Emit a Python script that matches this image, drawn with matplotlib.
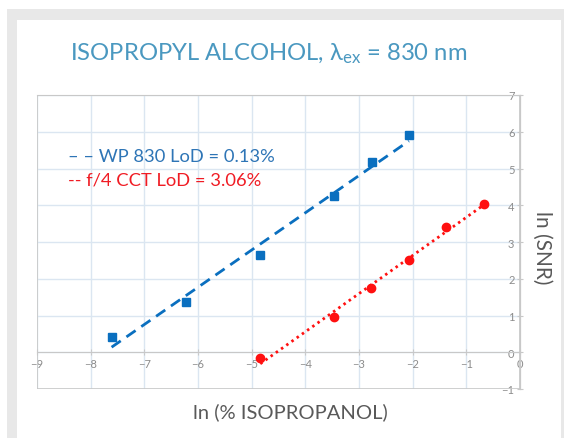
import matplotlib.pyplot as plt
from matplotlib.patches import Rectangle
import numpy as np

plt.rcParams['font.family'] = ['Lato', 'DejaVu Sans']
plt.rcParams['mathtext.fontset'] = 'custom'
plt.rcParams['mathtext.rm'] = 'Lato'

# ln(% isopropanol) vs ln(SNR)
wp_x = [-7.61, -6.23, -4.84, -3.46, -2.76, -2.07]
wp_y = [0.42, 1.37, 2.64, 4.26, 5.17, 5.90]
cct_x = [-4.84, -3.46, -2.77, -2.07, -1.38, -0.68]
cct_y = [-0.16, 0.95, 1.74, 2.51, 3.41, 4.03]

x_ticks = list(range(-9, 1))
y_ticks = list(range(-1, 8))

blue = '#0a6fbf'
red = '#ff1010'

fig = plt.figure(figsize=(5.64, 4.39), dpi=100)

# grey frame around the panel
W, H = 564, 439
fig.patches.append(Rectangle((7 / W, 0), 1 - 7 / W, 1 - 10 / H, transform=fig.transFigure,
                             facecolor='#e8e8e8', edgecolor='none', zorder=-2))
fig.patches.append(Rectangle((17 / W, 0), (561 - 17) / W, 1 - 21 / H, transform=fig.transFigure,
                             facecolor='white', edgecolor='none', zorder=-1))

ax = fig.add_axes([37 / W, 1 - 390 / H, (520 - 37) / W, (390 - 96) / H])
ax.set_zorder(2)
ax.set_facecolor('none')
ax.set_xlim(-9, 0)
ax.set_ylim(-1, 7)
ax.set_xticks(x_ticks)
ax.set_yticks(y_ticks)
ax.grid(True, color='#dbe6f1', linewidth=1.0)
ax.set_axisbelow(True)

for s in ['top', 'right']:
    ax.spines[s].set_color('#c8c8c8')
ax.spines['left'].set_position(('data', 0))
ax.spines['bottom'].set_position(('data', 0))
ax.spines['left'].set_color('#c8c8c8')
ax.spines['bottom'].set_color('#c8c8c8')
ax.add_patch(Rectangle((0, 0), 1, 1, transform=ax.transAxes, fill=False,
                       edgecolor='#c8c8c8', linewidth=1.2, zorder=1))
ax.tick_params(axis='both', colors='#c8c8c8', labelcolor='#8c8c8c', labelsize=8,
               length=3, width=0.8, pad=2)
ax.tick_params(axis='x', direction='inout', length=5)
ax.tick_params(axis='y', direction='inout', length=4)

# trendlines
pw = np.polyfit(wp_x, wp_y, 1)
xw = np.array([min(wp_x), max(wp_x)])
ax.plot(xw, np.polyval(pw, xw), color=blue, linewidth=2.0, dashes=(4, 2.5), zorder=3)
pc = np.polyfit(cct_x, cct_y, 1)
xc = np.array([min(cct_x), max(cct_x)])
ax.plot(xc, np.polyval(pc, xc), color=red, linewidth=2.0, dashes=(0.9, 1.4), zorder=3)

ax.plot(wp_x, wp_y, 's', color=blue, markersize=6, zorder=4)
ax.plot(cct_x, cct_y, 'o', color=red, markersize=6, zorder=4)

ax.text(0.064, 0.793, '– – WP 830 LoD = 0.13%', transform=ax.transAxes,
        color='#2e75b6', fontsize=13.2, va='center', ha='left')
ax.text(0.064, 0.712, '-- f/4 CCT LoD = 3.06%', transform=ax.transAxes,
        color='#f01c24', fontsize=13.2, va='center', ha='left')

fig.text(269 / W, 1 - 54 / H, r'ISOPROPYL ALCOHOL, $\mathregular{\lambda_{ex}}$ = 830 nm',
         ha='center', va='center', fontsize=17.2, color='#4a98c0')
fig.text(290 / W, 1 - 412 / H, 'ln (% ISOPROPANOL)', ha='center', va='center',
         fontsize=14.5, color='#595959')
fig.text(542 / W, 1 - 248 / H, 'ln (SNR)', ha='center', va='center', rotation=270,
         fontsize=15, color='#595959')

fig.savefig('out.png', dpi=100)
